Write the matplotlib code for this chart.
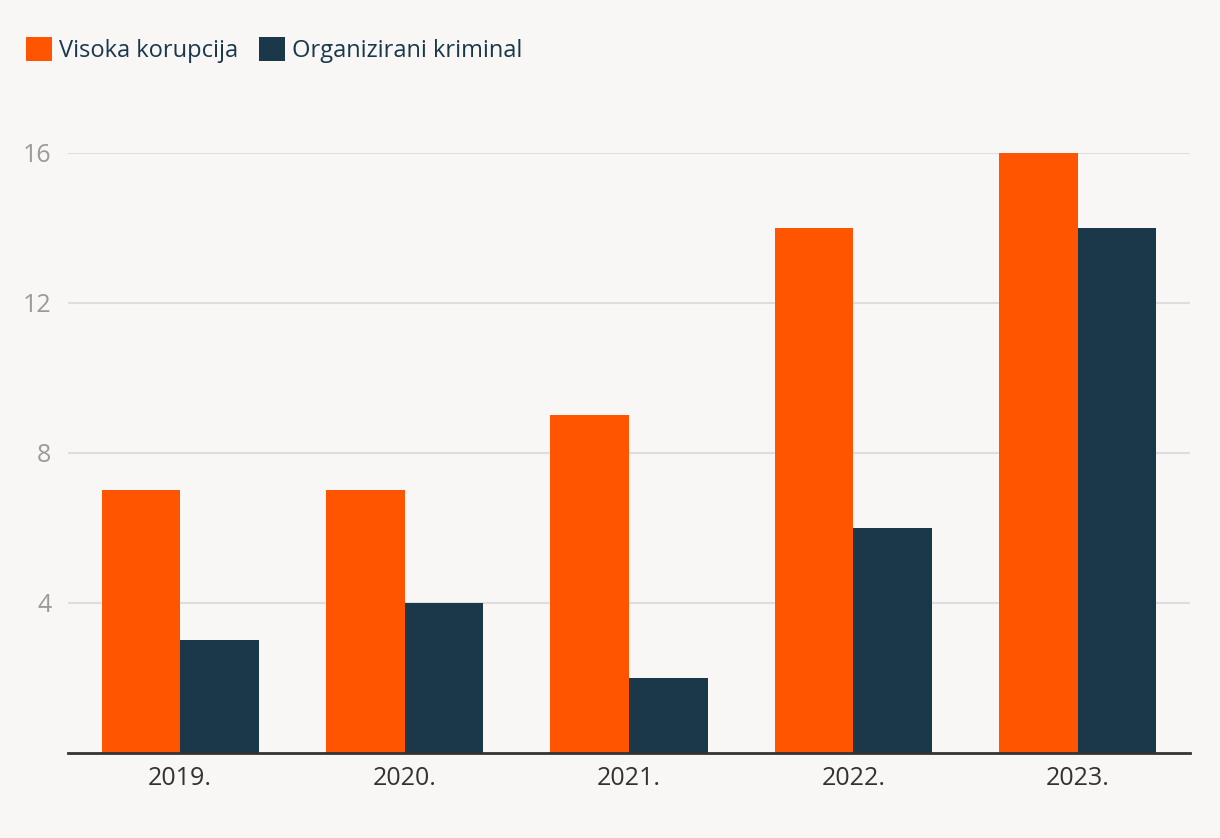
import matplotlib
matplotlib.use("Agg")
import matplotlib.pyplot as plt
import numpy as np

years = ["2019.", "2020.", "2021.", "2022.", "2023."]
visoka_korupcija = [7, 7, 9, 14, 16]
organizirani_kriminal = [3, 4, 2, 6, 14]
y_ticks = [4, 8, 12, 16]
series_names = ["Visoka korupcija", "Organizirani kriminal"]

BG = "#f8f7f5"
ORANGE = "#ff5500"
DARK = "#1b384a"

plt.rcParams['font.family'] = ['Open Sans', 'DejaVu Sans']

fig = plt.figure(figsize=(12.2, 8.38), dpi=100, facecolor=BG)
ax = fig.add_axes([68/1220, 1 - 752.5/838, (1190-68)/1220, (752.5-153)/838])
ax.set_facecolor(BG)

x = np.arange(len(years))
w = 0.35
ax.bar(x - w/2, visoka_korupcija, width=w, color=ORANGE, label=series_names[0], zorder=3)
ax.bar(x + w/2, organizirani_kriminal, width=w, color=DARK, label=series_names[1], zorder=3)

ax.set_xlim(-0.5, len(years) - 0.5)
ax.set_ylim(0, 16)
ax.set_yticks(y_ticks)
ax.set_yticklabels([str(t) for t in y_ticks])
ax.set_xticks(x)
ax.set_xticklabels(years)

ax.grid(axis='y', color='#dedede', linewidth=1.5, zorder=0)
ax.set_axisbelow(True)
for s in ['top', 'right', 'left']:
    ax.spines[s].set_visible(False)
ax.spines['bottom'].set_color('#333333')
ax.spines['bottom'].set_linewidth(2)
ax.spines['bottom'].set_zorder(4)

ax.tick_params(axis='y', length=0, pad=12, labelsize=18, labelcolor='#9a9a9a')
ax.tick_params(axis='x', length=0, pad=10, labelsize=18, labelcolor='#333333')

fig.legend(loc='upper left', bbox_to_anchor=(26/1220, 1 - 37/838), ncol=2, frameon=False,
           handlelength=1.1, handleheight=1.2, handletextpad=0.3, columnspacing=0.9,
           fontsize=17, labelcolor='#1b384a', borderaxespad=0, borderpad=0)

fig.savefig("out.png", dpi=100, facecolor=BG)
